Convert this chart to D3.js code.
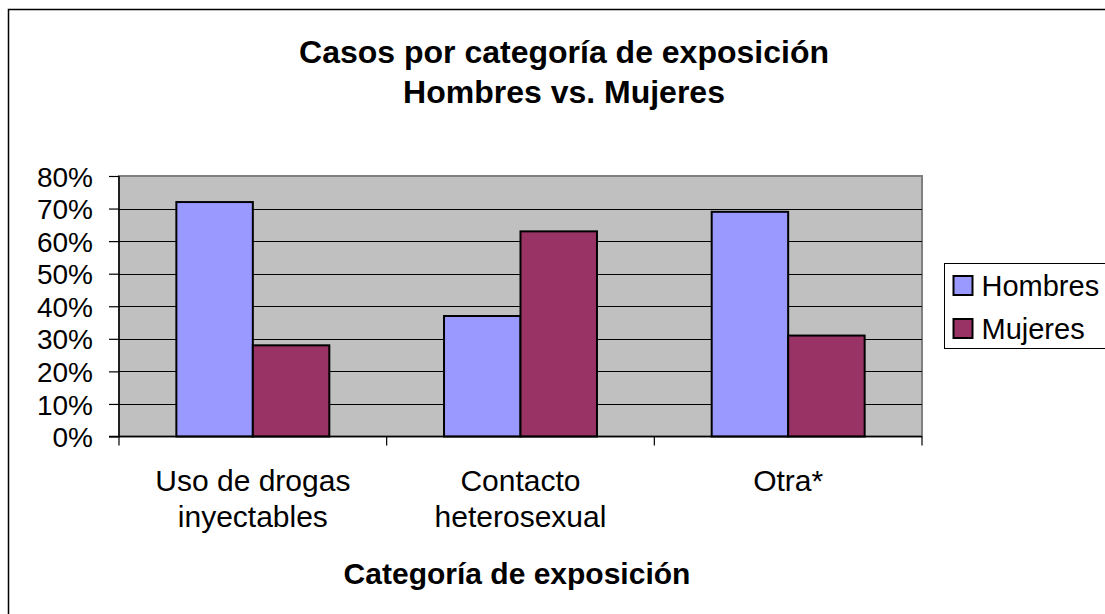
<!DOCTYPE html>
<html>
<head>
<meta charset="utf-8">
<script src="https://cdn.jsdelivr.net/npm/d3@7"></script>
<style>
  body { margin: 0; background: #fff; }
  text { font-family: "Liberation Sans", Arial, sans-serif; fill: #000; }
</style>
</head>
<body>
<div id="chart"></div>
<script>
// data
var categories = [["Uso de drogas", "inyectables"], ["Contacto", "heterosexual"], ["Otra*"]];
var series     = ["Hombres", "Mujeres"];
var hombres    = [0.72, 0.37, 0.69];
var mujeres    = [0.28, 0.63, 0.31];
var yTicks     = [0, 0.1, 0.2, 0.3, 0.4, 0.5, 0.6, 0.7, 0.8];
var colors     = ["#9999FF", "#993366"];

const width = 1105, height = 614;
const plot = { left: 119, top: 176, right: 922, bottom: 436.5 };

var svg = d3.select("#chart")
  .append("svg")
  .attr("width", width)
  .attr("height", height);

// outer chart border (runs off the right and bottom edges)
svg.append("rect")
  .attr("x", 8.5).attr("y", 9.5)
  .attr("width", 1200).attr("height", 800)
  .attr("fill", "#fff")
  .attr("stroke", "#000")
  .attr("stroke-width", 1.5);

// scales
const x0 = d3.scaleBand()
  .domain(d3.range(categories.length))
  .range([plot.left, plot.right]);

const x1 = d3.scaleBand()
  .domain(d3.range(series.length))
  .range([0, x0.bandwidth()])
  .paddingInner(0)
  .paddingOuter(0.75);   // gap width 150%

const y = d3.scaleLinear()
  .domain([0, 0.8])
  .range([plot.bottom, plot.top]);

// plot area
svg.append("rect")
  .attr("x", plot.left).attr("y", plot.top)
  .attr("width", plot.right - plot.left)
  .attr("height", plot.bottom - plot.top)
  .attr("fill", "#C0C0C0")
  .attr("stroke", "#808080")
  .attr("stroke-width", 2);

// gridlines
svg.selectAll(".grid")
  .data(yTicks.filter(d => d > 0 && d < 0.8))
  .enter()
  .append("line")
  .attr("x1", plot.left).attr("x2", plot.right)
  .attr("y1", d => Math.round(y(d)) + 0.5)
  .attr("y2", d => Math.round(y(d)) + 0.5)
  .attr("stroke", "#000")
  .attr("stroke-width", 1);

// bars
var table = categories.map((c, i) => [hombres[i], mujeres[i]]);
var groups = svg.selectAll(".cat")
  .data(table)
  .enter()
  .append("g")
  .attr("transform", (d, i) => "translate(" + x0(i) + ",0)");

groups.selectAll("rect")
  .data(d => d)
  .enter()
  .append("rect")
  .attr("x", (d, j) => x1(j))
  .attr("y", d => y(d))
  .attr("width", x1.bandwidth())
  .attr("height", d => plot.bottom - y(d))
  .attr("fill", (d, j) => colors[j])
  .attr("stroke", "#000")
  .attr("stroke-width", 2);

// y axis
var yAxis = d3.axisLeft(y)
  .tickValues(yTicks)
  .tickFormat(d3.format(".0%"))
  .tickSize(10)
  .tickPadding(16);

var gy = svg.append("g")
  .attr("transform", "translate(" + plot.left + ",0)")
  .call(yAxis);
gy.select(".domain").attr("stroke", "#000").attr("stroke-width", 1.5).attr("d", "M-10," + plot.bottom + "H0V" + plot.top);
gy.selectAll(".tick line").attr("stroke", "#000").attr("stroke-width", 1.2);
gy.selectAll(".tick text")
  .attr("font-size", 28)
  .attr("dy", "0.36em")
  .attr("font-family", "Liberation Sans, Arial, sans-serif")
  .attr("fill", "#000");

// x axis: baseline + ticks at category boundaries
svg.append("line")
  .attr("x1", plot.left).attr("x2", plot.right)
  .attr("y1", plot.bottom).attr("y2", plot.bottom)
  .attr("stroke", "#000").attr("stroke-width", 1.5);

svg.selectAll(".xtick")
  .data(d3.range(categories.length + 1))
  .enter()
  .append("line")
  .attr("x1", i => i < categories.length ? x0(i) : plot.right)
  .attr("x2", i => i < categories.length ? x0(i) : plot.right)
  .attr("y1", plot.bottom).attr("y2", plot.bottom + 9)
  .attr("stroke", "#000").attr("stroke-width", 1.2);

// category labels
var labels = svg.selectAll(".xlab")
  .data(categories)
  .enter()
  .append("text")
  .attr("text-anchor", "middle")
  .attr("font-size", 30);

labels.selectAll("tspan")
  .data((d, i) => d.map(t => ({ t: t, i: i })))
  .enter()
  .append("tspan")
  .attr("x", d => x0(d.i) + x0.bandwidth() / 2)
  .attr("y", (d, k) => 491 + k * 36)
  .text(d => d.t);

// titles
svg.append("text")
  .attr("x", 564).attr("y", 63)
  .attr("text-anchor", "middle")
  .attr("font-size", 32).attr("font-weight", "bold")
  .text("Casos por categoría de exposición");

svg.append("text")
  .attr("x", 564).attr("y", 103)
  .attr("text-anchor", "middle")
  .attr("font-size", 32).attr("font-weight", "bold")
  .text("Hombres vs. Mujeres");

svg.append("text")
  .attr("x", 517).attr("y", 584)
  .attr("text-anchor", "middle")
  .attr("font-size", 30).attr("font-weight", "bold")
  .text("Categoría de exposición");

// legend
var legend = svg.append("g").attr("transform", "translate(944.5,263.5)");
legend.append("rect")
  .attr("width", 200).attr("height", 85)
  .attr("fill", "#fff").attr("stroke", "#000").attr("stroke-width", 1);

var items = legend.selectAll(".item")
  .data(series)
  .enter()
  .append("g")
  .attr("transform", (d, i) => "translate(0," + (22.5 + i * 43) + ")");

items.append("rect")
  .attr("x", 9).attr("y", -10)
  .attr("width", 19).attr("height", 19)
  .attr("fill", (d, i) => colors[i])
  .attr("stroke", "#000").attr("stroke-width", 2);

items.append("text")
  .attr("x", 37).attr("y", 10)
  .attr("font-size", 29)
  .text(d => d);
</script>
</body>
</html>
